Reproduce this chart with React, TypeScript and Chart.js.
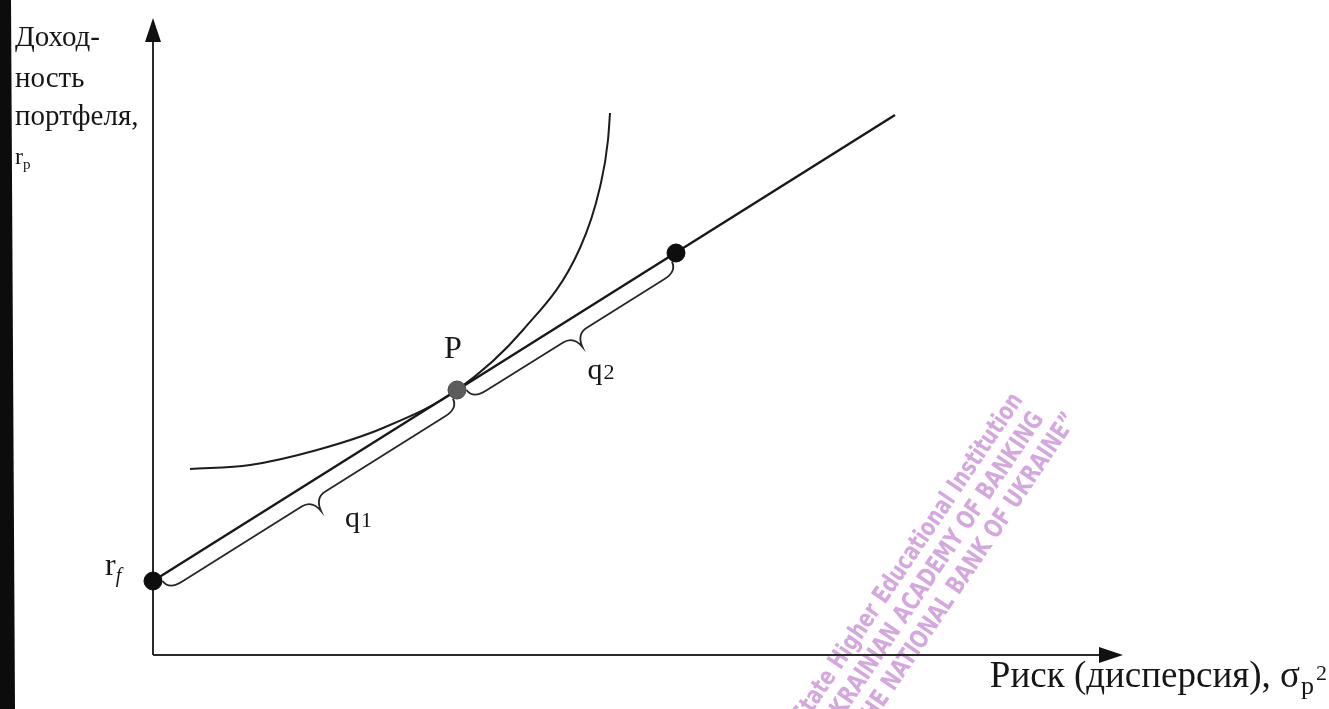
import React, { useEffect, useRef } from "react";
import { Chart, registerables } from "chart.js";

Chart.register(...registerables);

// Capital market line from the risk-free rate outward
const cmlX = [0, 74.2];
const cmlY = [7.4, 54.0];

// Investor's indifference curve, tangent to the line at P
const curveX = [3.7, 9.7, 16.4, 23.0, 30.4, 37.0, 42.7, 44.7, 45.5, 45.7];
const curveY = [18.6, 19.0, 20.5, 22.7, 26.5, 32.5, 40.7, 46.8, 51.5, 54.2];

// Marked portfolios: risk-free asset, tangent portfolio P, borrowing portfolio
const pointNames = ["rf", "P", "Q"];
const pointX = [0, 30.4, 52.3];
const pointY = [7.4, 26.5, 40.2];

// Braces spanning the line segments between marked portfolios
const braceFrom = [0, 1];
const braceTo = [1, 2];
const braceLabels = ["q", "q"];
const braceSubs = ["1", "2"];

// Axis titles
const yTitleLines = ["Доход-", "ность", "портфеля,"];
const yTitleSymbol = "r";
const yTitleSub = "p";
const xTitle = "Риск (дисперсия), σ";
const xTitleSub = "p";
const xTitleSup = "2";

// Overprinted library stamp
const stampLines = [
  "State Higher Educational Institution",
  "\u201CUKRAINIAN ACADEMY OF BANKING",
  "OF THE NATIONAL BANK OF UKRAINE\u201D",
];

const SERIF = '"Liberation Serif", "Times New Roman", serif';
const INK = "#161616";

const paperPlugin = {
  id: "paper",
  beforeDraw(chart: any) {
    const { ctx, width, height } = chart;
    ctx.save();
    ctx.fillStyle = "#ffffff";
    ctx.fillRect(0, 0, width, height);
    // dark scan edge along the left margin
    ctx.fillStyle = "#0c0c0c";
    ctx.beginPath();
    ctx.moveTo(0, 0);
    ctx.lineTo(11, 0);
    ctx.lineTo(15, height);
    ctx.lineTo(0, height);
    ctx.closePath();
    ctx.fill();
    ctx.restore();
  },
};

const stampPlugin = {
  id: "stamp",
  beforeDatasetsDraw(chart: any) {
    const { ctx } = chart;
    const angle = (-56 * Math.PI) / 180;
    const dir = [Math.cos(angle), Math.sin(angle)];
    const nrm = [-Math.sin(angle), Math.cos(angle)];
    const end0 = [1018, 396];
    const spacing = 28;
    const along = [0, -4, 14];
    ctx.save();
    ctx.fillStyle = "#d4a8de";
    ctx.font = 'bold 25px "DejaVu Sans", sans-serif';
    ctx.textAlign = "right";
    ctx.textBaseline = "middle";
    const w0 = ctx.measureText(stampLines[0]).width;
    const squeeze = 392 / w0;
    stampLines.forEach((line, i) => {
      const ex = end0[0] + nrm[0] * spacing * i + dir[0] * along[i];
      const ey = end0[1] + nrm[1] * spacing * i + dir[1] * along[i];
      ctx.save();
      ctx.translate(ex, ey);
      ctx.rotate(angle);
      ctx.scale(squeeze, 1);
      ctx.fillText(line, 0, 0);
      ctx.restore();
    });
    ctx.restore();
  },
};

const axesPlugin = {
  id: "axesArrows",
  beforeDatasetsDraw(chart: any) {
    const { ctx, chartArea, scales } = chart;
    const x0 = scales.x.getPixelForValue(0);
    const y0 = scales.y.getPixelForValue(0);
    const xEnd = chartArea.right;
    const yEnd = chartArea.top;
    ctx.save();
    ctx.strokeStyle = "#2a2a2a";
    ctx.fillStyle = "#111";
    ctx.lineWidth = 2;
    ctx.beginPath();
    ctx.moveTo(x0, y0);
    ctx.lineTo(x0, yEnd + 18);
    ctx.moveTo(x0, y0);
    ctx.lineTo(xEnd - 18, y0);
    ctx.stroke();
    // arrowheads
    ctx.beginPath();
    ctx.moveTo(x0, yEnd);
    ctx.lineTo(x0 - 8, yEnd + 24);
    ctx.lineTo(x0 + 8, yEnd + 24);
    ctx.closePath();
    ctx.fill();
    ctx.beginPath();
    ctx.moveTo(xEnd, y0);
    ctx.lineTo(xEnd - 24, y0 - 8);
    ctx.lineTo(xEnd - 24, y0 + 8);
    ctx.closePath();
    ctx.fill();
    ctx.restore();
  },
};

function drawBrace(ctx: CanvasRenderingContext2D, x1: number, y1: number, x2: number, y2: number) {
  const L = Math.hypot(x2 - x1, y2 - y1);
  const ang = Math.atan2(y2 - y1, x2 - x1);
  const d = 16;
  const tip = 30;
  const m = L / 2;
  ctx.save();
  ctx.translate(x1, y1);
  ctx.rotate(ang);
  ctx.beginPath();
  ctx.moveTo(8, 5);
  ctx.quadraticCurveTo(9, d, 24, d);
  ctx.lineTo(m - 14, d);
  ctx.quadraticCurveTo(m - 2, d, m, tip);
  ctx.quadraticCurveTo(m + 2, d, m + 14, d);
  ctx.lineTo(L - 24, d);
  ctx.quadraticCurveTo(L - 9, d, L - 8, 5);
  ctx.stroke();
  ctx.restore();
  const c = Math.cos(ang);
  const s = Math.sin(ang);
  return { x: x1 + m * c - tip * s, y: y1 + m * s + tip * c };
}

const bracePlugin = {
  id: "braces",
  beforeDatasetsDraw(chart: any) {
    const { ctx, scales } = chart;
    const labelOffsets = [
      [24, 16],
      [5, 32],
    ];
    ctx.save();
    ctx.strokeStyle = "#262626";
    ctx.lineWidth = 1.8;
    braceFrom.forEach((fi, i) => {
      const ti = braceTo[i];
      const ax = scales.x.getPixelForValue(pointX[fi]);
      const ay = scales.y.getPixelForValue(pointY[fi]);
      const bx = scales.x.getPixelForValue(pointX[ti]);
      const by = scales.y.getPixelForValue(pointY[ti]);
      const t = drawBrace(ctx, ax, ay, bx, by);
      const lx = t.x + labelOffsets[i][0];
      const ly = t.y + labelOffsets[i][1];
      ctx.fillStyle = INK;
      ctx.textAlign = "left";
      ctx.textBaseline = "alphabetic";
      ctx.font = `30px ${SERIF}`;
      ctx.fillText(braceLabels[i], lx, ly);
      const w = ctx.measureText(braceLabels[i]).width;
      ctx.font = `22px ${SERIF}`;
      ctx.fillText(braceSubs[i], lx + w + 1, ly);
    });
    ctx.restore();
  },
};

const labelsPlugin = {
  id: "labels",
  afterDatasetsDraw(chart: any) {
    const { ctx, scales } = chart;
    ctx.save();
    ctx.fillStyle = INK;
    ctx.textBaseline = "alphabetic";

    // P above the tangent portfolio
    const px = scales.x.getPixelForValue(pointX[1]);
    const py = scales.y.getPixelForValue(pointY[1]);
    ctx.font = `32px ${SERIF}`;
    ctx.textAlign = "center";
    ctx.fillText(pointNames[1], px - 4, py - 32);

    // r_f left of the risk-free point
    const rx = scales.x.getPixelForValue(pointX[0]);
    const ry = scales.y.getPixelForValue(pointY[0]);
    ctx.textAlign = "left";
    ctx.font = `32px ${SERIF}`;
    ctx.fillText("r", rx - 48, ry - 6);
    const rw = ctx.measureText("r").width;
    ctx.font = `italic 20px ${SERIF}`;
    ctx.fillText("f", rx - 48 + rw, ry + 1);

    // vertical axis title
    ctx.font = `29px ${SERIF}`;
    const baselines = [46, 87, 125];
    yTitleLines.forEach((line, i) => ctx.fillText(line, 15, baselines[i]));
    ctx.font = `24px ${SERIF}`;
    ctx.fillText(yTitleSymbol, 15, 164);
    const sw = ctx.measureText(yTitleSymbol).width;
    ctx.font = `15px ${SERIF}`;
    ctx.fillText(yTitleSub, 15 + sw, 169);

    // horizontal axis title, ending at the right edge
    const right = 1327;
    ctx.font = `37px ${SERIF}`;
    const w1 = ctx.measureText(xTitle).width;
    ctx.font = `26px ${SERIF}`;
    const w2 = ctx.measureText(xTitleSub).width;
    ctx.font = `22px ${SERIF}`;
    const w3 = ctx.measureText(xTitleSup).width;
    const left = right - (w1 + w2 + w3 + 3);
    const base = 687;
    ctx.font = `37px ${SERIF}`;
    ctx.fillText(xTitle, left, base);
    ctx.font = `26px ${SERIF}`;
    ctx.fillText(xTitleSub, left + w1 + 1, base + 7);
    ctx.font = `22px ${SERIF}`;
    ctx.fillText(xTitleSup, left + w1 + w2 + 3, base - 7);
    ctx.restore();
  },
};

export default function App() {
  const ref = useRef<HTMLCanvasElement>(null);

  useEffect(() => {
    if (!ref.current) return;
    const chart = new Chart(ref.current, {
      type: "scatter",
      data: {
        datasets: [
          {
            label: "points",
            data: pointX.map((x, i) => ({ x, y: pointY[i] })),
            pointRadius: 9,
            pointBackgroundColor: ["#0e0e0e", "#5c5c5c", "#0e0e0e"],
            pointBorderColor: ["#0e0e0e", "#4a4a4a", "#0e0e0e"],
            pointBorderWidth: 1,
            showLine: false,
            order: 0,
            clip: false,
          },
          {
            label: "cml",
            data: cmlX.map((x, i) => ({ x, y: cmlY[i] })),
            showLine: true,
            borderColor: "#181818",
            borderWidth: 2.4,
            pointRadius: 0,
            order: 1,
            clip: false,
          },
          {
            label: "curve",
            data: curveX.map((x, i) => ({ x, y: curveY[i] })),
            showLine: true,
            borderColor: "#1c1c1c",
            borderWidth: 2,
            pointRadius: 0,
            cubicInterpolationMode: "monotone",
            order: 2,
            clip: false,
          },
        ],
      },
      options: {
        animation: false,
        responsive: false,
        maintainAspectRatio: false,
        events: [],
        layout: { padding: { left: 153, top: 18, right: 206, bottom: 54 } },
        scales: {
          x: { type: "linear", min: 0, max: 97, display: false },
          y: { type: "linear", min: 0, max: 63.7, display: false },
        },
        plugins: {
          legend: { display: false },
          tooltip: { enabled: false },
        },
      },
      plugins: [paperPlugin, stampPlugin, axesPlugin, bracePlugin, labelsPlugin],
    } as any);
    return () => chart.destroy();
  }, []);

  return (
    <div style={{ position: "fixed", left: 0, top: 0, width: 1329, height: 709, background: "#fff" }}>
      <canvas ref={ref} width={1329} height={709} style={{ display: "block" }} />
    </div>
  );
}
